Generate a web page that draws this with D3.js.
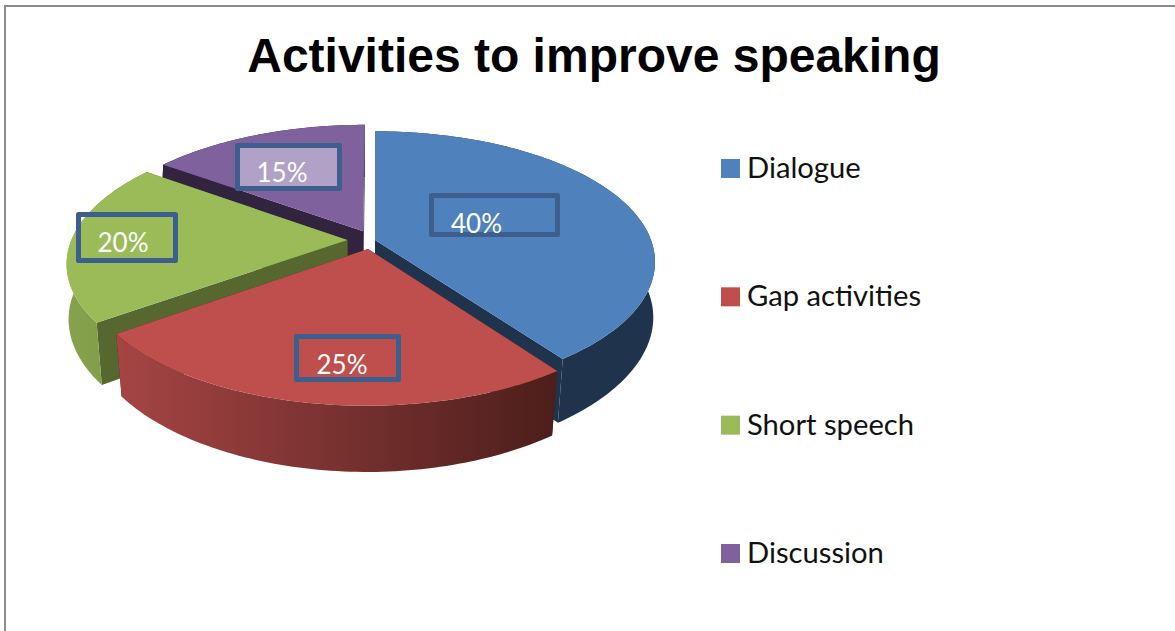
<!DOCTYPE html>
<html lang="en">
<head>
  <meta charset="UTF-8">
  <title>Activities to improve speaking</title>
  <script src="https://d3js.org/d3.v7.min.js"></script>
  <style>
    html, body { margin: 0; padding: 0; background: #fff; overflow: hidden; }
    svg { display: block; }
  </style>
</head>
<body>
  <div id="chart"></div>

  <script>
    // Chart data
    const categories = ["Dialogue", "Gap activities", "Short speech", "Discussion"];
    const values = [40, 25, 20, 15];
    const valueLabels = ["40%", "25%", "20%", "15%"];

    // Colours per slice
    const topColors = ["#4f81bd", "#be4f4c", "#9bbb59", "#7f619e"];
    const innerWallColors = ["#1f334d", "#4e1f1c", "#56672f", "#32243f"];
    const outerWallStops = [
      ["#1f334d", "#1f334d"],
      ["#a54544", "#4c1e1b"],
      ["#86a24c", "#7d9947"],
      ["#32243f", "#32243f"]
    ];

    // How far each slice is pulled out, in units of the disc radius
    const explodeX = [0, -0.025, -0.1, -0.043];
    const explodeZ = [0, 0.07, 0, -0.07];

    // Label boxes and where the text sits inside them
    const labelBoxes = [
      { x: 431.5, y: 195.5, w: 126, h: 39, tx: 476.5, ty: 233, fill: "none" },
      { x: 296.5, y: 336.5, w: 102, h: 43, tx: 342, ty: 374, fill: "none" },
      { x: 78.5, y: 214.5, w: 97, h: 46, tx: 123, ty: 252, fill: "none" },
      { x: 237.5, y: 145.5, w: 102, h: 43, tx: 282, ty: 182, fill: "#b2a1c7" }
    ];

    const width = 1175;
    const height = 631;

    const svg = d3.select("#chart")
      .append("svg")
      .attr("width", width)
      .attr("height", height);

    // Frame, only left and top fall inside the picture
    svg.append("rect")
      .attr("x", 5)
      .attr("y", 6)
      .attr("width", width + 20)
      .attr("height", height + 20)
      .attr("fill", "#fff")
      .attr("stroke", "#8c8c8c")
      .attr("stroke-width", 2);

    // Title
    svg.append("text")
      .attr("x", 594)
      .attr("y", 72)
      .attr("text-anchor", "middle")
      .style("font-family", "'Liberation Sans', Arial, sans-serif")
      .style("font-weight", "bold")
      .style("font-size", "48px")
      .text("Activities to improve speaking");

    // Perspective projection of the disc
    const cx = 375, cy = 240, rx = 276, ry = 127, persp = 0.168;
    const project = (u, v) => {
      const s = 1 / (1 - persp * v);
      return [cx + rx * u * s, cy + ry * v * s];
    };
    // The lower plane of the pie sits further away, more so towards the front
    const lower = p => {
      const m = 0.998 - (p[1] - cy) * 0.0002;
      return [cx + (p[0] - cx) * m, p[1] + 58 + 0.05 * (p[1] - cy)];
    };

    const pie = d3.pie().sort(null).value(d => d);
    const arcs = pie(values);
    const line = d3.line();

    const defs = svg.append("defs");

    const slices = arcs.map((a, i) => {
      const ox = explodeX[i], oz = explodeZ[i];
      const angles = d3.range(a.startAngle, a.endAngle, 0.02).concat(a.endAngle);
      const rim = angles.map(t => project(Math.sin(t) + ox, -Math.cos(t) + oz));
      const apex = project(ox, oz);
      return { i, apex, rim };
    });

    // Back slices first so the front ones cover them
    const drawOrder = [3, 0, 2, 1];

    drawOrder.forEach(i => {
      const d = slices[i];
      const g = svg.append("g");

      const xs = d.rim.map(p => p[0]);
      const grad = defs.append("linearGradient")
        .attr("id", "wall" + i)
        .attr("gradientUnits", "userSpaceOnUse")
        .attr("x1", d3.min(xs)).attr("x2", d3.max(xs))
        .attr("y1", 0).attr("y2", 0);
      grad.append("stop").attr("offset", 0).attr("stop-color", outerWallStops[i][0]);
      grad.append("stop").attr("offset", 1).attr("stop-color", outerWallStops[i][1]);

      // Cut faces
      const first = d.rim[0], last = d.rim[d.rim.length - 1];
      [first, last].forEach(p => {
        g.append("path")
          .attr("d", line([d.apex, p, lower(p), lower(d.apex)]) + "Z")
          .attr("fill", innerWallColors[i]);
      });

      // Outer wall
      g.append("path")
        .attr("d", line(d.rim.concat(d.rim.map(lower).reverse())) + "Z")
        .attr("fill", "url(#wall" + i + ")");

      // Top face
      g.append("path")
        .attr("d", line([d.apex].concat(d.rim)) + "Z")
        .attr("fill", topColors[i]);
    });

    // Value labels
    labelBoxes.forEach((b, i) => {
      svg.append("rect")
        .attr("x", b.x).attr("y", b.y)
        .attr("width", b.w).attr("height", b.h)
        .attr("fill", b.fill)
        .attr("stroke", "#3c5f8d")
        .attr("stroke-width", 5)
        .attr("stroke-linejoin", "round");
      svg.append("text")
        .attr("x", b.tx).attr("y", b.ty)
        .attr("text-anchor", "middle")
        .attr("fill", "#fff")
        .style("font-family", "Lato, sans-serif")
        .style("font-size", "26px")
        .text(valueLabels[i]);
    });

    // Legend
    const legendY = d3.scalePoint()
      .domain(categories)
      .range([168, 553]);

    const legend = svg.selectAll(".legend")
      .data(categories)
      .enter().append("g")
      .attr("class", "legend")
      .attr("transform", d => "translate(721," + legendY(d) + ")");

    legend.append("rect")
      .attr("x", 0)
      .attr("y", -9)
      .attr("width", 19)
      .attr("height", 19)
      .attr("fill", (d, i) => topColors[i]);

    legend.append("text")
      .attr("x", 26)
      .attr("y", 10)
      .attr("fill", "#111")
      .style("font-family", "Lato, sans-serif")
      .style("font-size", "29.2px")
      .text(d => d);
  </script>
</body>
</html>
